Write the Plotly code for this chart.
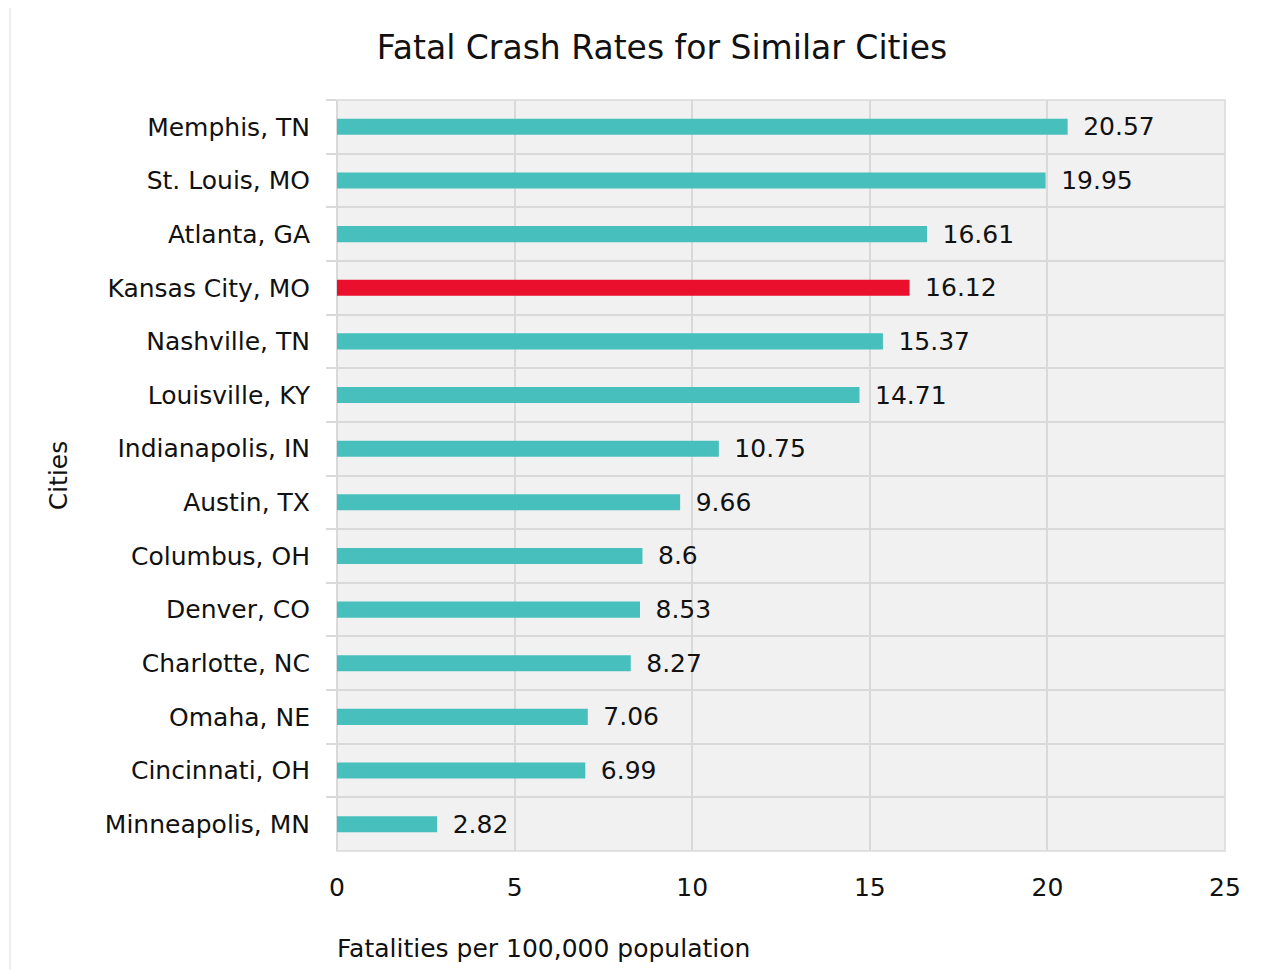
import plotly.graph_objects as go

cities = ["Memphis, TN", "St. Louis, MO", "Atlanta, GA", "Kansas City, MO", "Nashville, TN",
          "Louisville, KY", "Indianapolis, IN", "Austin, TX", "Columbus, OH", "Denver, CO",
          "Charlotte, NC", "Omaha, NE", "Cincinnati, OH", "Minneapolis, MN"]
rates = [20.57, 19.95, 16.61, 16.12, 15.37, 14.71, 10.75, 9.66, 8.6, 8.53, 8.27, 7.06, 6.99, 2.82]
highlight = "Kansas City, MO"
x_ticks = [0, 5, 10, 15, 20, 25]

TEAL = "#47bfbc"
RED = "#e90f2d"
FONT = "DejaVu Sans"
FS = 25

colors = [RED if c == highlight else TEAL for c in cities]
labels = ["\u2002" + str(v) for v in rates]

# page has an 8px body margin; figure coords = screen coords - 8
OFF = 8
W, H = 1265 - OFF, 970 - OFF
L, R, T, B = 337 - OFF, 40, 100 - OFF, 119
pw, ph = W - L - R, H - T - B

def px(x):
    return (x - OFF - L) / pw

def py(y):
    return (H - B - (y - OFF)) / ph

fig = go.Figure(go.Bar(
    x=rates, y=cities, orientation="h",
    marker=dict(color=colors, line=dict(width=0)),
    text=labels, textposition="outside", cliponaxis=False, constraintext="none",
    textfont=dict(family=FONT, size=FS, color="#111111"),
    width=0.3,
))

fig.update_layout(
    width=W, height=H,
    margin=dict(l=L, r=R, t=T, b=B),
    paper_bgcolor="white",
    plot_bgcolor="#f1f1f1",
    font=dict(family=FONT, size=FS, color="#111111"),
    title=dict(text="Fatal Crash Rates for Similar Cities", x=(662 - OFF) / W, xanchor="center",
               y=1 - (47 - OFF) / H, yanchor="middle",
               font=dict(family=FONT, size=33, color="#111111")),
    showlegend=False,
    xaxis=dict(range=[0, 25], tickvals=x_ticks, showgrid=True, gridcolor="#d9d9d9",
               gridwidth=1.5, zeroline=True, zerolinecolor="#d9d9d9", zerolinewidth=1.5,
               ticks="", ticklabelstandoff=19, tickfont=dict(size=FS),
               showline=False, fixedrange=True),
    yaxis=dict(autorange="reversed", type="category", tickson="boundaries",
               showgrid=True, gridcolor="#d9d9d9", gridwidth=1.5,
               ticks="outside", ticklen=10, tickcolor="#d9d9d9", tickwidth=1.5,
               ticklabelstandoff=26, tickfont=dict(size=FS),
               title=dict(text="Cities", standoff=30, font=dict(size=FS)),
               showline=False, fixedrange=True),
    annotations=[dict(text="Fatalities per 100,000 population", xref="paper", yref="paper",
                      x=px(335), y=py(948), xanchor="left", yanchor="middle",
                      showarrow=False, font=dict(family=FONT, size=FS, color="#111111"))],
    shapes=[
        dict(type="line", xref="paper", yref="paper", x0=px(10), x1=px(1265), y0=py(6), y1=py(6),
             line=dict(color="#e6e6e6", width=2), layer="below"),
        dict(type="line", xref="paper", yref="paper", x0=px(10), x1=px(10), y0=py(6), y1=py(970),
             line=dict(color="#eeeeee", width=2), layer="below"),
        dict(type="rect", xref="paper", yref="paper", x0=0, x1=1, y0=0, y1=1,
             line=dict(color="#d9d9d9", width=1.5), layer="below"),
    ],
)

fig.write_html("out.html")
